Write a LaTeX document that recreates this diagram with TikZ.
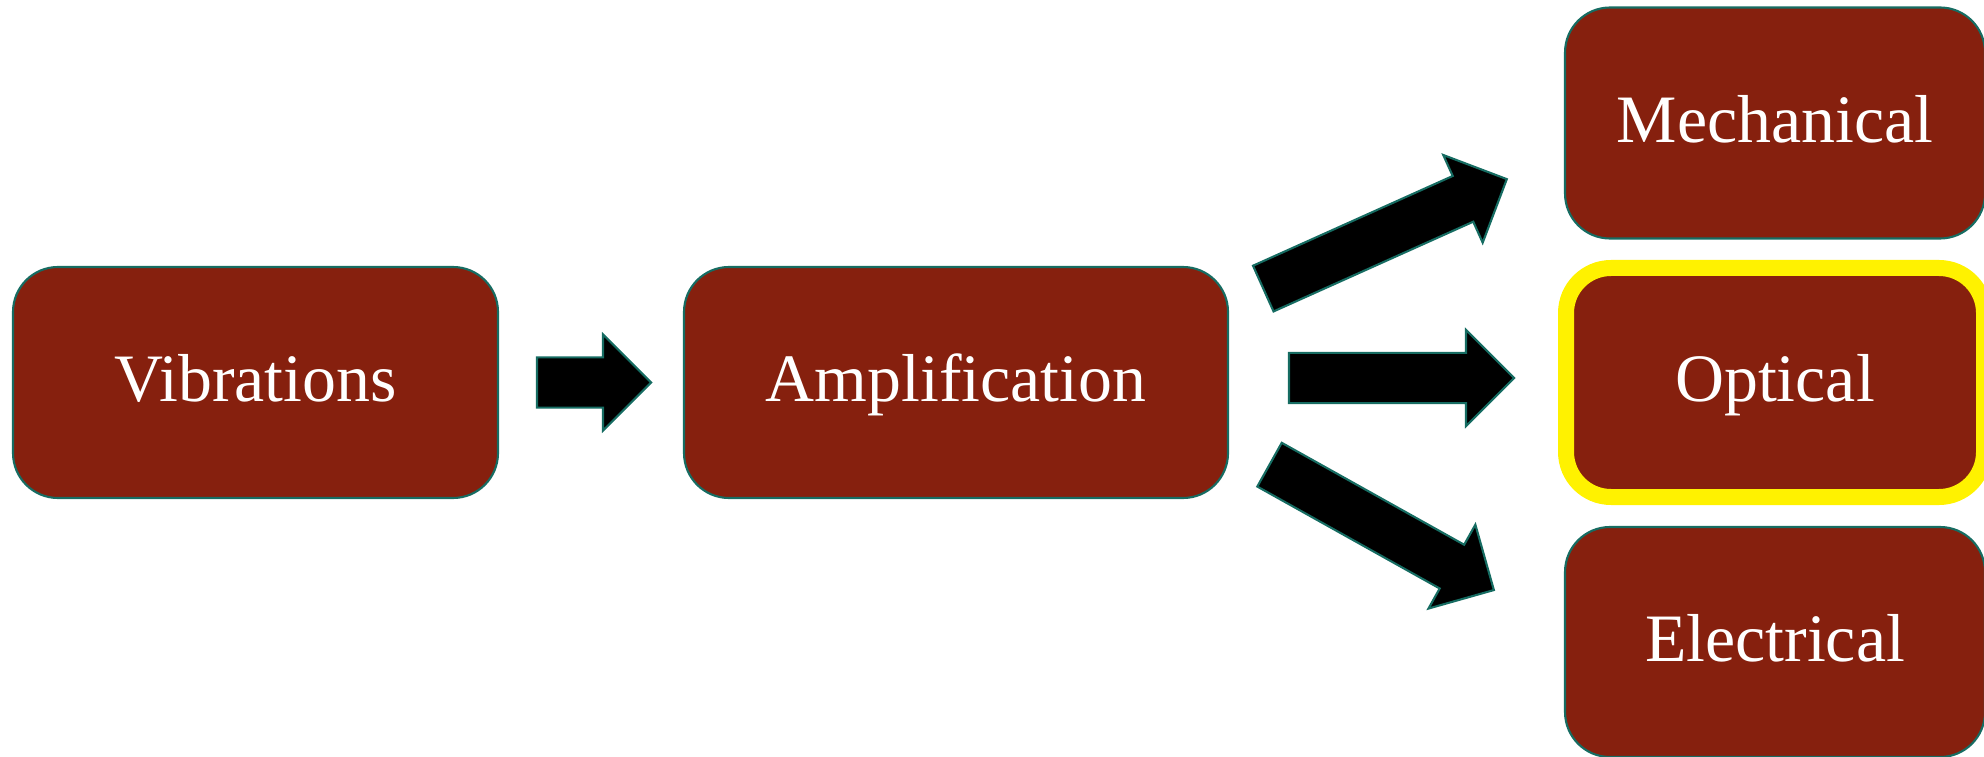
\documentclass[tikz,border=0pt]{standalone}
\usepackage{fontspec}
\setmainfont{Liberation Serif}
\usetikzlibrary{shapes.arrows}
\definecolor{boxred}{RGB}{134,32,14}
\definecolor{rim}{RGB}{22,108,98}
\tikzset{
  box/.style={draw=rim,line width=0.6pt,fill=boxred,rounded corners=0.45cm,
    minimum height=2.31cm,text=white,font=\fontsize{19.3}{23}\selectfont,
    text height=0.45cm,text depth=0.06cm},
  blockarrow/.style={single arrow,draw=rim,line width=0.6pt,fill=black,
    inner xsep=0pt,inner ysep=0.24cm,single arrow head extend=0.23cm}
}
\begin{document}
\begin{tikzpicture}
    \useasboundingbox (0,0) rectangle (19.84,7.56);
    \node[box,minimum width=4.85cm] (vib) at (2.555,3.735) {Vibrations};
    \node[box,minimum width=5.44cm] (amp) at (9.56,3.735) {Amplification};
    \node[box,minimum width=4.20cm] (mech) at (17.75,6.33) {Mechanical};
    \node[box,minimum width=4.18cm,minimum height=2.29cm,draw=yellow,line width=0.16cm] (opt) at (17.75,3.735) {Optical};
    \node[box,minimum width=4.20cm,minimum height=2.30cm] (elec) at (17.75,1.14) {Electrical};

    \node[blockarrow,minimum height=1.14cm] (vibamp) at (5.815,3.735) {};
    \node[blockarrow,minimum height=2.25cm] (ampopt) at (13.89,3.78) {};
    \node[blockarrow,minimum height=2.67cm,rotate=24.2] (ampmech) at (13.736,5.17) {};
    \node[blockarrow,minimum height=2.57cm,rotate=-29.2] (ampelec) at (13.7075,2.3475) {};
\end{tikzpicture}
\end{document}
